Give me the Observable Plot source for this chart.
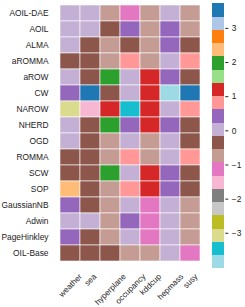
<!DOCTYPE html>
<html>
<head>
<meta charset="utf-8">
<script src="https://cdn.jsdelivr.net/npm/d3@7"></script>
<script src="https://cdn.jsdelivr.net/npm/@observablehq/plot@0.6"></script>
<style>
  html, body { margin: 0; padding: 0; background: #fff; }
  #wrap { position: relative; width: 245px; height: 307px; overflow: hidden; }
  #wrap svg { position: absolute; top: 0; }
</style>
</head>
<body>
<div id="wrap"></div>
<script>
const columns = ["weather", "sea", "hyperplane", "occupancy", "kddcup", "hepmass", "susy"];
const rows = ["AOIL-DAE", "AOIL", "ALMA", "aROMMA", "aROW", "CW", "NAROW", "NHERD", "OGD",
  "ROMMA", "SCW", "SOP", "GaussianNB", "Adwin", "PageHinkley", "OIL-Base"];

// estimated cell values, one array per row (columns in order above)
const vAOILDAE    = [0.03, 0.03, -0.75, -1.13, -0.75, 0.03, -0.75];
const vAOIL       = [0.03, 0.03, -0.36, 0.42, -0.75, 0.42, -0.75];
const vALMA       = [0.03, -0.36, -0.75, -0.36, -0.75, 0.42, -0.36];
const vaROMMA     = [-0.36, -0.36, -0.75, 0.81, -0.75, 0.03, 0.81];
const vaROW       = [0.03, -0.36, 1.97, 0.03, 1.20, 0.42, -0.36];
const vCW         = [0.42, 3.72, -0.36, 0.03, 1.20, -4.04, 3.55];
const vNAROW      = [-3.07, -1.52, 1.20, -3.46, 1.20, 0.03, 0.81];
const vNHERD      = [0.03, -0.36, 1.97, 0.42, 1.20, 0.42, -0.36];
const vOGD        = [0.03, -0.36, -0.75, 0.03, -0.75, 0.03, -0.36];
const vROMMA      = [-0.36, -0.36, -0.75, 0.81, -0.75, 0.03, 0.81];
const vSCW        = [-0.36, -0.36, 1.97, 0.03, 1.20, 0.42, -0.36];
const vSOP        = [2.36, -0.36, -0.75, 0.81, 1.20, 0.42, -0.36];
const vGaussianNB = [0.42, -0.36, -0.75, 0.03, -1.13, 0.03, -0.75];
const vAdwin      = [0.03, 0.03, -0.75, 0.42, -1.13, 0.03, -0.75];
const vPageHinkley= [0.42, -0.36, -0.75, 0.03, -1.13, 0.03, -0.75];
const vOILBase    = [-0.36, -0.36, -0.36, -0.75, -0.75, 0.03, -1.13];

const values = [vAOILDAE, vAOIL, vALMA, vaROMMA, vaROW, vCW, vNAROW, vNHERD, vOGD,
  vROMMA, vSCW, vSOP, vGaussianNB, vAdwin, vPageHinkley, vOILBase];

const cbTicks = [-3, -2, -1, 0, 1, 2, 3];

// tab20, index 0 at top of colorbar (highest values)
const tab20 = ["#1f77b4","#aec7e8","#ff7f0e","#ffbb78","#2ca02c","#98df8a","#d62728","#ff9896",
  "#9467bd","#c5b0d5","#8c564b","#c49c94","#e377c2","#f7b6d2","#7f7f7f","#c7c7c7",
  "#bcbd22","#dbdb8d","#17becf","#9edae5"];

const table = [];
rows.forEach((r, i) => columns.forEach((c, j) => table.push({row: r, col: c, value: values[i][j]})));

const [vmin, vmax] = d3.extent(table, d => d.value);
const nBands = tab20.length;
const step = (vmax - vmin) / nBands;
const thresholds = d3.range(1, nBands).map(i => vmin + i * step);
const colorRange = tab20.slice().reverse();
const colorScale = {type: "threshold", domain: thresholds, range: colorRange};

const FONT = "'Liberation Sans', Arial, Helvetica, sans-serif";
const FS = 8.4;
const XFS = 8.1;

// measure label widths to center rotated labels like matplotlib
const ctx = document.createElement("canvas").getContext("2d");
ctx.font = `${XFS}px ${FONT}`;
const labelMarks = columns.map(c => {
  const w = ctx.measureText(c).width;
  const h = XFS * 0.95;
  const dy = 10 + Math.SQRT1_2 * (w + h) / 2;
  return Plot.text([c], {x: d => d, text: d => d, frameAnchor: "bottom", rotate: -45,
    textAnchor: "middle", lineAnchor: "middle", dy, fill: "#222", fontSize: XFS});
});

const main = Plot.plot({
  width: 245, height: 307,
  marginLeft: 57, marginRight: 43, marginTop: 3, marginBottom: 45,
  x: {domain: columns, padding: 0, axis: null},
  y: {domain: rows, padding: 0, tickSize: 0, tickPadding: 9, label: null},
  color: colorScale,
  style: {fontFamily: FONT, fontSize: FS + "px", color: "#222", background: "transparent", overflow: "visible"},
  marks: [
    Plot.cell(table, {x: "col", y: "row", fill: "value", stroke: "#ffffff", strokeWidth: 0.7, strokeOpacity: 0.85}),
    ...labelMarks
  ]
});
main.style.left = "0px";

const edges = [vmin, ...thresholds, vmax];
const bands = d3.range(nBands).map(i => ({lo: edges[i], hi: edges[i + 1], mid: (edges[i] + edges[i + 1]) / 2}));

const cb = Plot.plot({
  width: 40, height: 307,
  marginLeft: 6.7, marginRight: 20.7, marginTop: 3.3, marginBottom: 38.7,
  x: {domain: [0, 1], axis: null},
  y: {domain: [vmin, vmax], axis: "right", ticks: cbTicks, tickSize: 3, tickPadding: 4,
      tickFormat: d => d < 0 ? "\u2212" + (-d) : String(d), label: null},
  color: colorScale,
  style: {fontFamily: FONT, fontSize: FS + "px", color: "#222", background: "transparent", overflow: "visible"},
  marks: [
    Plot.rect(bands, {x1: 0, x2: 1, y1: "lo", y2: "hi", fill: "mid", shapeRendering: "crispEdges"})
  ]
});
cb.style.left = "205px";

const wrap = document.getElementById("wrap");
wrap.appendChild(main);
wrap.appendChild(cb);
</script>
</body>
</html>
